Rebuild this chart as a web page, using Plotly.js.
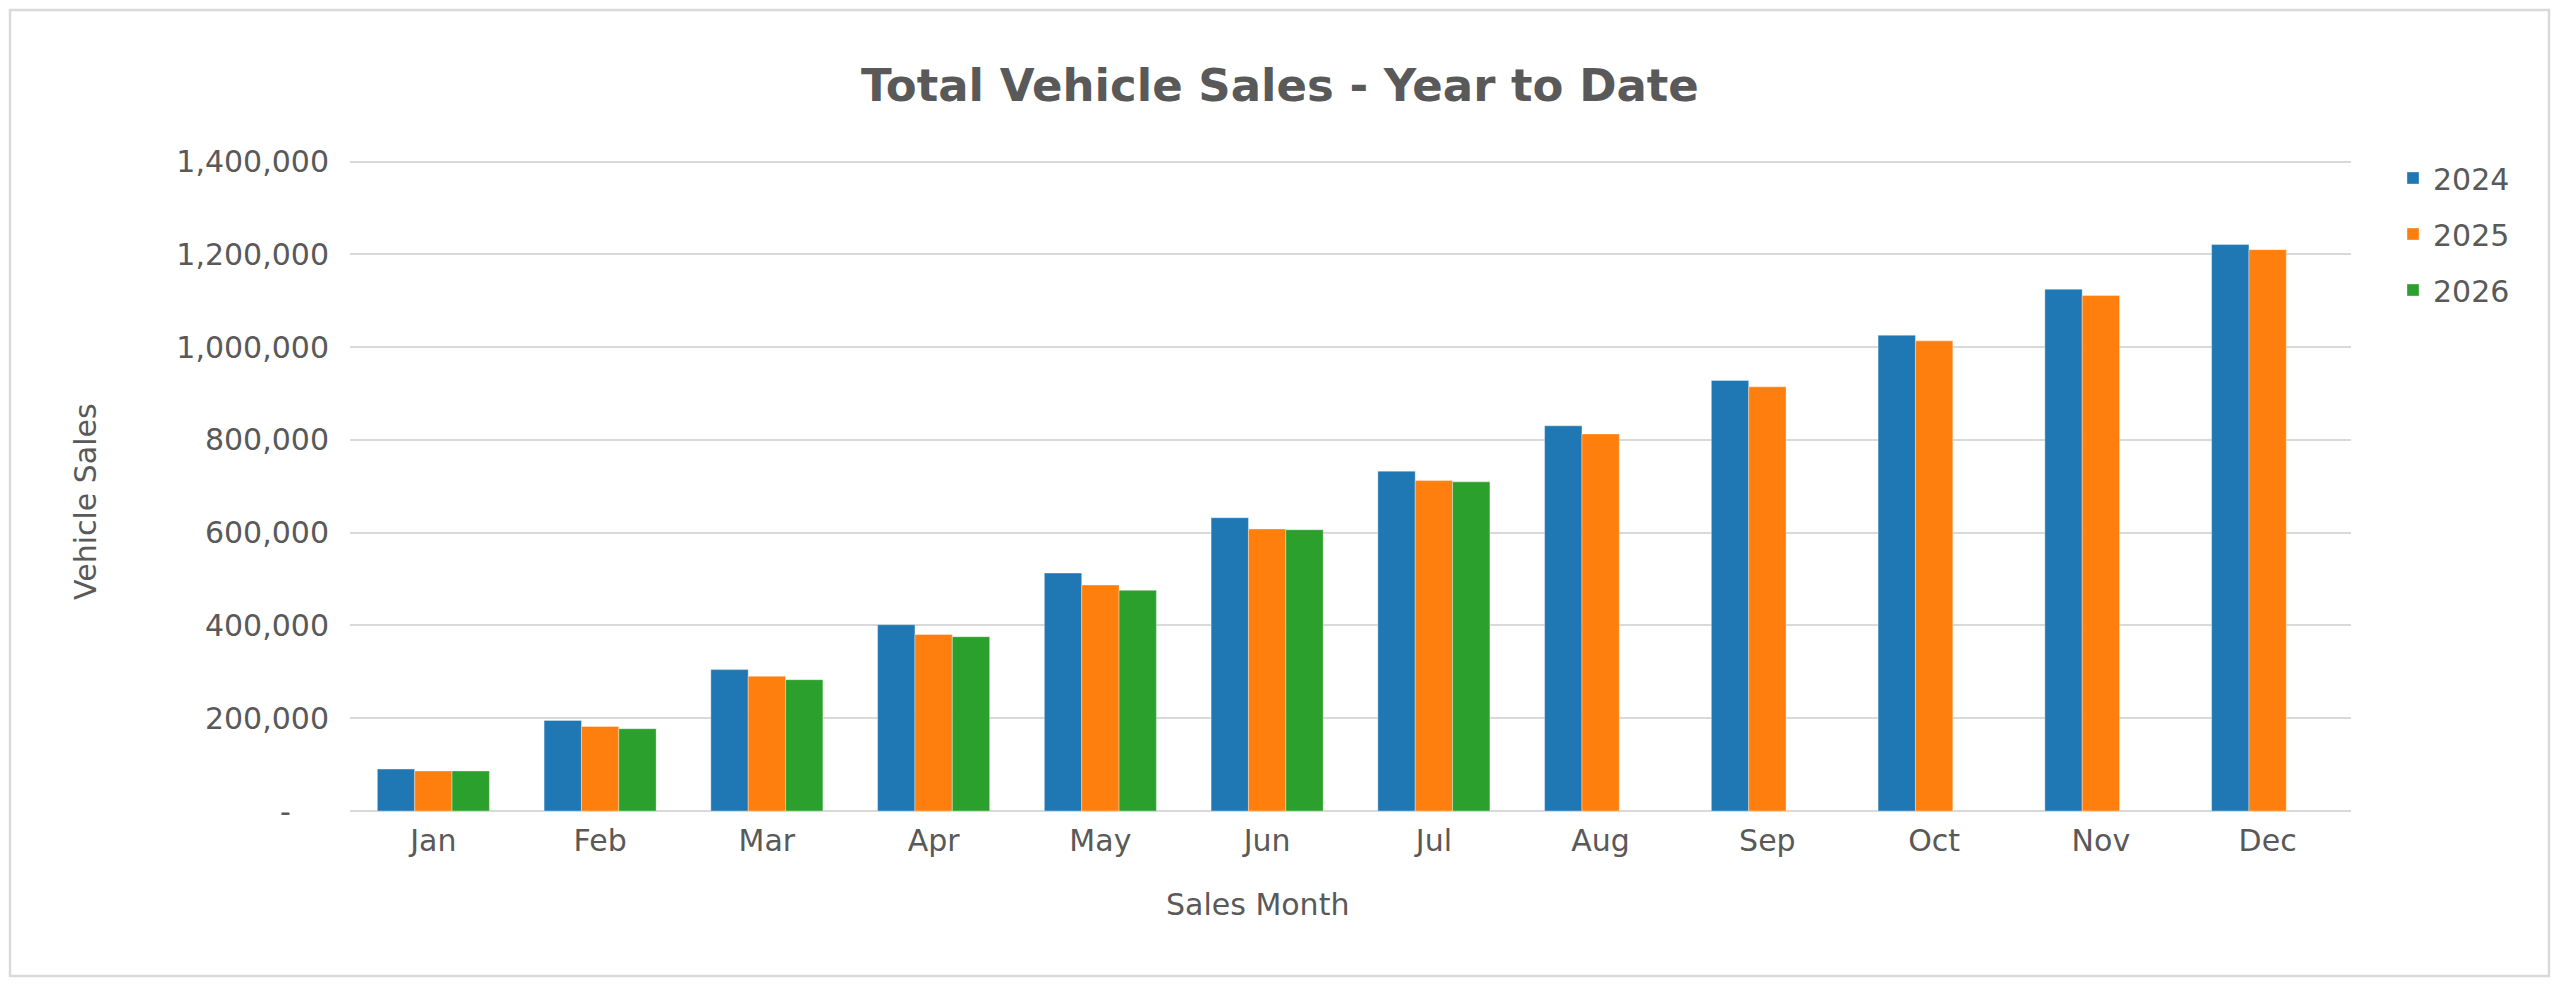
<!DOCTYPE html>
<html>
<head>
<meta charset="utf-8">
<script src="https://cdn.plot.ly/plotly-3.0.1.min.js"></script>
<style>
  html, body { margin: 0; padding: 0; background: #fff; }
  #chart { width: 2560px; height: 987px; }
</style>
</head>
<body>
<div id="chart"></div>
<script>
// Data
var months = ['Jan', 'Feb', 'Mar', 'Apr', 'May', 'Jun', 'Jul', 'Aug', 'Sep', 'Oct', 'Nov', 'Dec'];

var sales2024 = [90300, 195200, 304800, 401600, 512900, 632300, 732700, 830400, 928100, 1025800, 1124800, 1221200];
var sales2025 = [86300, 182300, 290300, 380600, 487100, 608100, 712300, 812800, 914500, 1013600, 1111300, 1210300];
var sales2026 = [86300, 177400, 283100, 375800, 475800, 606500, 709600, null, null, null, null, null];

var yTickVals = [0, 200000, 400000, 600000, 800000, 1000000, 1200000, 1400000];
var yTickText = ['-\u00a0\u00a0\u00a0\u00a0', '200,000', '400,000', '600,000', '800,000', '1,000,000', '1,200,000', '1,400,000'];

var textColor = '#595959';
var gridColor = '#d9d9d9';
var fontFamily = '"DejaVu Sans", Verdana, sans-serif';

// plot area in pixels, used to place the border and titles
// (range goes a bit above 1.4M so the top gridline is drawn; margin compensates)
var W = 2560, H = 987;
var mL = 350, mR = 209, mT = 157, mB = 176;
var plotW = W - mL - mR;
var plotH = H - mT - mB;
function px(x) { return (x - mL) / plotW; }
function py(y) { return (H - mB - y) / plotH; }

function barTrace(name, values, color) {
    return {
        x: months,
        y: values,
        type: 'bar',
        name: name,
        legendgroup: name,
        marker: {color: color, line: {color: 'rgba(255,255,255,0.35)', width: 1}},
        hoverinfo: 'x+y+name'
    };
}

var data = [
    barTrace('2024', sales2024, '#1f77b4'),
    barTrace('2025', sales2025, '#ff7f0e'),
    barTrace('2026', sales2026, '#2ca02c')
];

var layout = {
    width: W,
    height: H,
    autosize: false,
    margin: {l: mL, r: mR, t: mT, b: mB, pad: 0},
    paper_bgcolor: '#ffffff',
    plot_bgcolor: '#ffffff',
    font: {family: fontFamily, color: textColor, size: 30},
    title: {
        text: '<b>Total Vehicle Sales - Year to Date</b>',
        font: {family: fontFamily, size: 45, color: textColor},
        x: 0.5,
        xref: 'container',
        xanchor: 'center',
        y: 1 - 85 / H,
        yref: 'container',
        yanchor: 'middle'
    },
    barmode: 'group',
    bargap: 0.328,
    bargroupgap: 0,
    xaxis: {
        type: 'category',
        showgrid: false,
        showline: false,
        zeroline: false,
        ticks: '',
        ticklabelstandoff: 9,
        tickfont: {size: 30, color: textColor},
        fixedrange: true
    },
    yaxis: {
        range: [0, 1410000],
        tickvals: yTickVals,
        ticktext: yTickText,
        showgrid: true,
        gridcolor: gridColor,
        gridwidth: 2,
        zeroline: true,
        zerolinecolor: gridColor,
        zerolinewidth: 2,
        showline: false,
        ticks: '',
        ticklabelstandoff: 20,
        tickfont: {size: 30, color: textColor},
        fixedrange: true
    },
    legend: {
        x: px(2393),
        xanchor: 'left',
        y: py(152),
        yanchor: 'top',
        traceorder: 'grouped',
        tracegroupgap: 14,
        font: {size: 30, color: textColor},
        bgcolor: 'rgba(0,0,0,0)'
    },
    annotations: [
        {
            text: 'Sales Month',
            xref: 'paper', yref: 'paper',
            x: px(1257), y: py(904),
            xanchor: 'center', yanchor: 'middle',
            showarrow: false,
            font: {size: 30, color: textColor}
        },
        {
            text: 'Vehicle Sales',
            xref: 'paper', yref: 'paper',
            x: px(85), y: py(502),
            xanchor: 'center', yanchor: 'middle',
            textangle: -90,
            showarrow: false,
            font: {size: 30, color: textColor}
        }
    ],
    shapes: [
        {
            type: 'rect',
            xref: 'paper', yref: 'paper',
            x0: px(10), x1: px(2549),
            y0: py(976), y1: py(10),
            line: {color: gridColor, width: 2.5},
            fillcolor: 'rgba(0,0,0,0)',
            layer: 'below'
        }
    ]
};

Plotly.newPlot('chart', data, layout, {displayModeBar: false, responsive: false});
</script>
</body>
</html>
